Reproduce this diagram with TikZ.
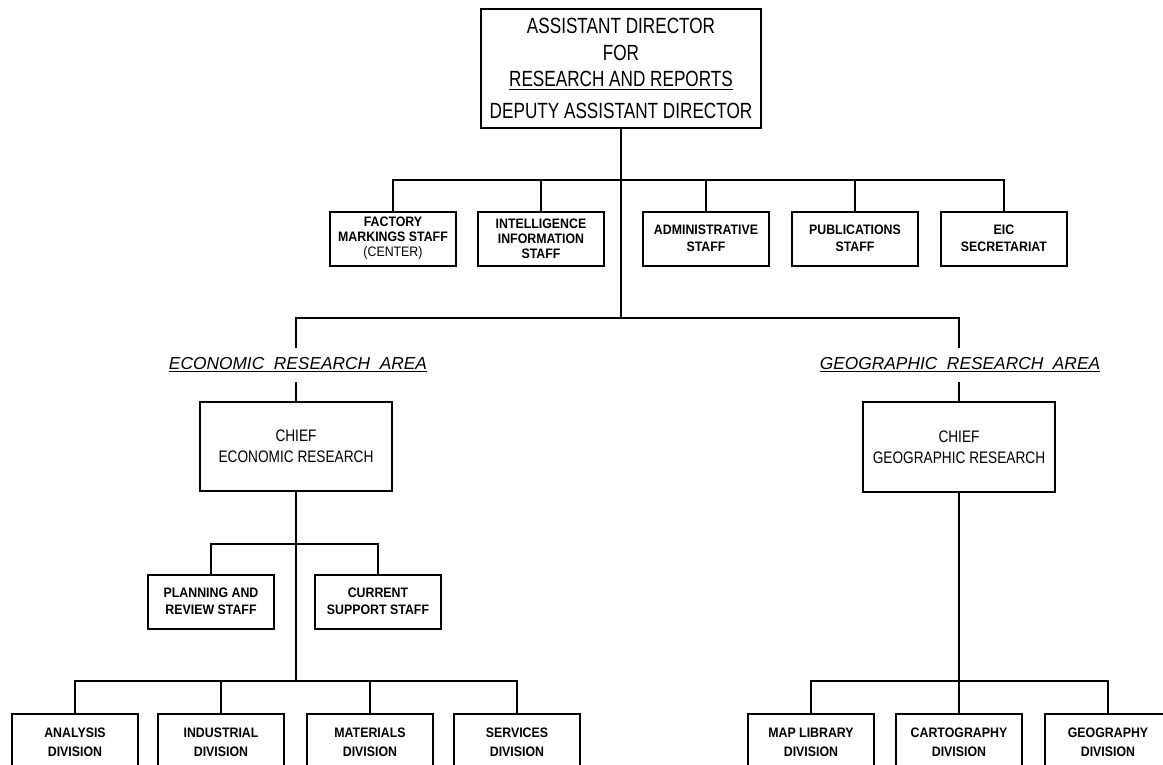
\documentclass[tikz,border=0pt]{standalone}
\usepackage{fontspec}
\setmainfont{Liberation Sans}
\newfontfamily\headfont[FakeStretch=0.78]{Liberation Sans}
\newfontfamily\boxfont[FakeStretch=0.9]{Liberation Sans}
\newfontfamily\chieffont[FakeStretch=0.82]{Liberation Sans}
\newfontfamily\areafont{Liberation Sans}
\begin{document}
\begin{tikzpicture}
[x=0.75pt,y=-0.75pt,
  orgbox/.style={draw,line width=1.5pt,align=center,inner sep=0pt},%
  headbox/.style={orgbox,minimum width=210pt,minimum height=89pt,
    font=\headfont\fontsize{16.5}{20}\selectfont},%
  staffbox/.style={orgbox,minimum width=95pt,minimum height=40.5pt,
    font=\boxfont\bfseries\fontsize{10.3}{13}\selectfont},%
  threeline/.style={font=\boxfont\bfseries\fontsize{10.3}{11.25}\selectfont},%
  divbox/.style={staffbox,anchor=north,minimum height=42pt,
    font=\boxfont\bfseries\fontsize{10.3}{14}\selectfont},%
  chiefbox/.style={orgbox,minimum width=143.5pt,minimum height=67pt,
    font=\chieffont\fontsize{12.5}{15.75}\selectfont},%
  arealabel/.style={inner sep=0pt,minimum height=25.5pt,
    font=\areafont\itshape\fontsize{13}{14}\selectfont},%
  linedecorate/.style={-,line width=2pt}]
\useasboundingbox (0,0) rectangle (1163,764);
\clip (0,0) rectangle (1163,764);
%% director
\node (head) at (621,68.5) [headbox] {ASSISTANT DIRECTOR\\FOR\\
  \underline{RESEARCH AND REPORTS}\\[4pt]DEPUTY ASSISTANT DIRECTOR};
%% staff offices
\node (factory) at (393,238.5) [staffbox,threeline]
  {FACTORY\\MARKINGS STAFF\\\mdseries(CENTER)};
\node (intel) at (541,238.5) [staffbox,threeline]
  {INTELLIGENCE\\INFORMATION\\STAFF};
\foreach \nodename/\x/\boxtext in {admin/706/{ADMINISTRATIVE\\STAFF},
  pubs/855/{PUBLICATIONS\\STAFF}, eic/1004/{EIC\\SECRETARIAT}} {
  \node (\nodename) at (\x,238.5) [staffbox] {\boxtext};
}
%% research areas
\node (econlabel) at (298,365) [arealabel]
  {\underline{ECONOMIC\ \ RESEARCH\ \ AREA}};
\node (geolabel) at (960,365) [arealabel]
  {\underline{GEOGRAPHIC\ \ RESEARCH\ \ AREA}};
\node (econchief) at (296,446.5) [chiefbox] {CHIEF\\ECONOMIC RESEARCH};
\node (geochief) at (959,447) [chiefbox] {CHIEF\\GEOGRAPHIC RESEARCH};
%% economic staffs and divisions
\node (planning) at (211,601.5) [staffbox] {PLANNING AND\\REVIEW STAFF};
\node (current) at (378,601.5) [staffbox] {CURRENT\\SUPPORT STAFF};
\foreach \nodename/\x/\boxtext in {analysis/75/ANALYSIS, industrial/221/INDUSTRIAL,
  materials/370/MATERIALS, services/517/SERVICES, maplib/811/MAP LIBRARY,
  carto/959/CARTOGRAPHY, geog/1108/GEOGRAPHY} {
  \node (\nodename) at (\x,713) [divbox] {\boxtext\\DIVISION};
}
%% junctions
\coordinate (staffbus) at (621,180);
\coordinate (areabus) at (621,318);
\coordinate (econstaffbus) at (296,544);
\coordinate (econdivbus) at (296,681);
\coordinate (geodivbus) at (959,681);
%% edges or lines
\draw[linedecorate] (head.south) -- (areabus);
\foreach \nodename in {factory, intel, admin, pubs, eic}
  \draw[linedecorate] (\nodename.north) |- (staffbus);
\draw[linedecorate] (econlabel.north -| econchief.north) |- (areabus);
\draw[linedecorate] (geolabel.north -| geochief.north) |- (areabus);
\draw[linedecorate] (econlabel.south -| econchief.north) -- (econchief.north);
\draw[linedecorate] (geolabel.south -| geochief.north) -- (geochief.north);
\draw[linedecorate] (econchief.south) -- (econdivbus);
\draw[linedecorate] (geochief.south) -- (geodivbus);
\foreach \nodename in {planning, current}
  \draw[linedecorate] (\nodename.north) |- (econstaffbus);
\foreach \nodename in {analysis, industrial, materials, services}
  \draw[linedecorate] (\nodename.north) |- (econdivbus);
\foreach \nodename in {maplib, carto, geog}
  \draw[linedecorate] (\nodename.north) |- (geodivbus);
\end{tikzpicture}
\end{document}
